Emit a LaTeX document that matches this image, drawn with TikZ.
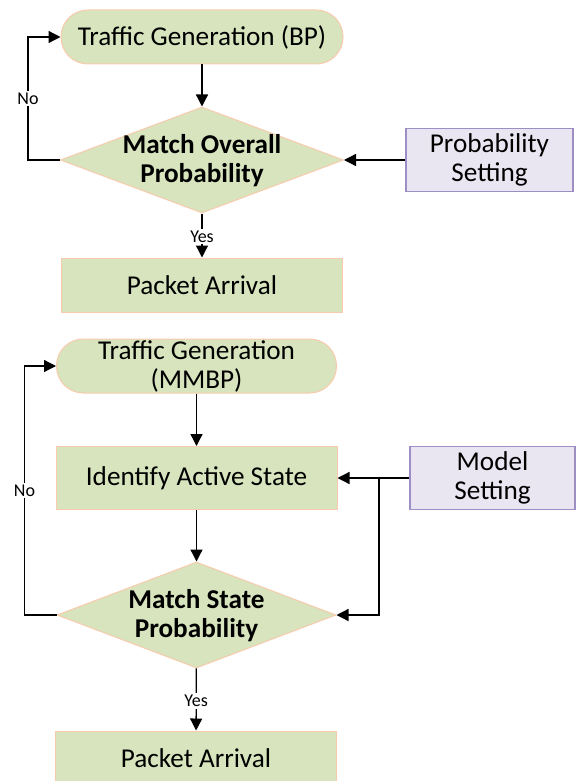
\documentclass[tikz,border=0pt]{standalone}
\usepackage{fontspec}
\setmainfont{Carlito}
\usetikzlibrary{shapes.geometric,arrows.meta}
\definecolor{boxfill}{HTML}{D7E4BD}
\definecolor{boxline}{HTML}{F8CBAD}
\definecolor{setfill}{HTML}{EAE6F1}
\definecolor{setline}{HTML}{9D8FC6}

\begin{document}
\begin{tikzpicture}[x=0.5pt, y=-0.5pt,
    font=\fontsize{13.6}{14.5}\selectfont,
    terminal/.style={rectangle, draw=boxline, fill=boxfill, line width=0.5pt, rounded corners=13.4pt, minimum width=141pt, minimum height=27pt, inner sep=0pt, align=center},
    process/.style={rectangle, draw=boxline, fill=boxfill, line width=0.5pt, minimum width=140.5pt, minimum height=27pt, inner sep=0pt, align=center},
    decision/.style={diamond, draw=boxline, fill=boxfill, line width=0.5pt, minimum width=141.5pt, minimum height=53pt, inner sep=0pt},
    setting/.style={rectangle, draw=setline, fill=setfill, line width=0.6pt, minimum width=83.5pt, minimum height=31.5pt, inner sep=0pt, align=center},
    arrow/.style={-{Triangle[length=6pt, width=6pt]}, line width=0.65pt},
    answer/.style={fill=white, inner sep=1pt, font=\fontsize{9}{10}\selectfont}]

    \useasboundingbox (0,0) rectangle (577,781);

    % Bernoulli process
    \node[terminal] (tg1) at (202, 37) {Traffic Generation (BP)};
    \node[decision] (mop) at (202, 160) {};
    \node[align=center, font=\fontsize{13.6}{14.5}\selectfont\bfseries] (moptext) at (202, 161) {Match Overall\\Probability};
    \node[setting] (ps) at (489.5, 160) {Probability\\Setting};
    \node[process] (pa1) at (202, 285) {Packet Arrival};

    % MMBP
    \node[terminal, minimum width=140pt] (tg2) at (196.5, 366) {Traffic Generation\\(MMBP)};
    \node[process, minimum height=31.5pt] (ias) at (196.5, 478) {Identify Active State};
    \node[decision, minimum width=139.5pt] (msp) at (196.5, 615) {};
    \node[align=center, font=\fontsize{13.6}{14.5}\selectfont\bfseries] (msptext) at (196.5, 616) {Match State\\Probability};
    \node[setting, minimum width=82.5pt] (ms) at (492.5, 478) {Model\\Setting};
    \node[process] (pa2) at (196, 758) {Packet Arrival};
    \coordinate (split) at (379, 478);

    % Arrows
    \draw[arrow] (tg1) -- (mop);
    \draw[arrow] (ps) -- (mop.east);
    \draw[arrow] (mop.west) -- ++(-32,0) |- (tg1.west)
        node[pos=0.25, answer] {No};
    \draw[arrow] (mop) -- node[answer, pos=0.52] {Yes} (pa1);

    \draw[arrow] (tg2) -- (ias);
    \draw[arrow] (ias) -- (msp);
    \draw[arrow] (ms) -- (ias);
    \draw[arrow] (split) |- (msp.east);
    \draw[arrow] (msp.west) -- ++(-32,0) |- (tg2.west)
        node[pos=0.25, answer] {No};
    \draw[arrow] (msp) -- node[answer, pos=0.52] {Yes} (pa2);

\end{tikzpicture}
\end{document}
